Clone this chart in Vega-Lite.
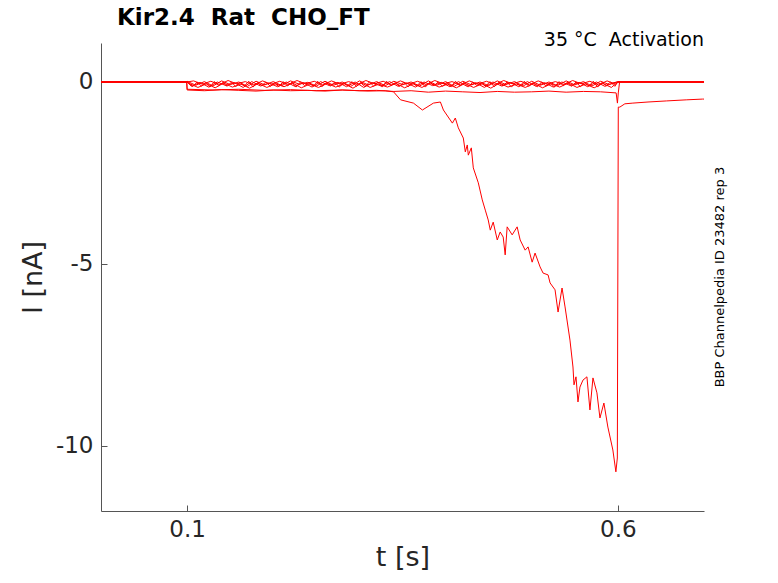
{
  "$schema": "https://vega.github.io/schema/vega-lite/v6.json",
  "autosize": "none",
  "width": 603,
  "height": 468,
  "padding": {"left": 101, "top": 43, "right": 74, "bottom": 72},
  "background": "white",
  "config": {
    "view": {"stroke": null},
    "font": "DejaVu Sans",
    "axis": {"grid": false, "domainColor": "#555555", "tickColor": "#555555", "labelColor": "#262626", "titleColor": "#262626", "labelFont": "DejaVu Sans", "titleFont": "DejaVu Sans", "labelFontSize": 23, "titleFontSize": 27, "titleFontWeight": "normal", "tickSize": -6, "domainWidth": 1, "tickWidth": 1}
  },
  "title": {"text": "Kir2.4\u00a0 Rat\u00a0 CHO_FT", "anchor": "start", "frame": "group", "dx": 16, "offset": 1, "fontSize": 23, "fontWeight": "bold", "font": "DejaVu Sans", "color": "#000000"},
  "datasets": {
    "traces": [
      {"s":"a","t":0,"i":0},{"s":"a","t":0.0995,"i":0},{"s":"a","t":0.1,"i":-0.2},{"s":"a","t":0.13,"i":-0.22},{"s":"a","t":0.16,"i":-0.2},{"s":"a","t":0.19,"i":-0.23},{"s":"a","t":0.22,"i":-0.21},{"s":"a","t":0.25,"i":-0.24},{"s":"a","t":0.28,"i":-0.22},{"s":"a","t":0.31,"i":-0.25},{"s":"a","t":0.33,"i":-0.24},{"s":"a","t":0.3396,"i":-0.27},{"s":"a","t":0.3477,"i":-0.49},{"s":"a","t":0.3627,"i":-0.58},{"s":"a","t":0.3731,"i":-0.77},{"s":"a","t":0.3859,"i":-0.58},{"s":"a","t":0.394,"i":-0.55},{"s":"a","t":0.3975,"i":-0.77},{"s":"a","t":0.4079,"i":-1.13},{"s":"a","t":0.4113,"i":-0.99},{"s":"a","t":0.4148,"i":-1.26},{"s":"a","t":0.4206,"i":-1.54},{"s":"a","t":0.4229,"i":-1.92},{"s":"a","t":0.4252,"i":-1.73},{"s":"a","t":0.4264,"i":-2.01},{"s":"a","t":0.4299,"i":-1.81},{"s":"a","t":0.4322,"i":-2.36},{"s":"a","t":0.438,"i":-2.77},{"s":"a","t":0.4426,"i":-3.24},{"s":"a","t":0.4461,"i":-3.52},{"s":"a","t":0.4495,"i":-3.79},{"s":"a","t":0.4519,"i":-4.07},{"s":"a","t":0.4553,"i":-3.85},{"s":"a","t":0.46,"i":-4.34},{"s":"a","t":0.4634,"i":-4.12},{"s":"a","t":0.4669,"i":-4.26},{"s":"a","t":0.4692,"i":-4.75},{"s":"a","t":0.4715,"i":-3.98},{"s":"a","t":0.4773,"i":-4.2},{"s":"a","t":0.4831,"i":-3.98},{"s":"a","t":0.4866,"i":-4.34},{"s":"a","t":0.4924,"i":-4.62},{"s":"a","t":0.4958,"i":-4.53},{"s":"a","t":0.5005,"i":-4.95},{"s":"a","t":0.5039,"i":-4.7},{"s":"a","t":0.5097,"i":-5.08},{"s":"a","t":0.5132,"i":-5.25},{"s":"a","t":0.519,"i":-5.3},{"s":"a","t":0.5213,"i":-5.52},{"s":"a","t":0.5271,"i":-5.71},{"s":"a","t":0.5306,"i":-6.32},{"s":"a","t":0.5352,"i":-5.66},{"s":"a","t":0.5387,"i":-6.18},{"s":"a","t":0.5444,"i":-7.09},{"s":"a","t":0.5479,"i":-7.83},{"s":"a","t":0.5491,"i":-8.32},{"s":"a","t":0.5514,"i":-8.1},{"s":"a","t":0.5537,"i":-8.79},{"s":"a","t":0.556,"i":-8.38},{"s":"a","t":0.5595,"i":-8.19},{"s":"a","t":0.5641,"i":-8.1},{"s":"a","t":0.5676,"i":-9.01},{"s":"a","t":0.5711,"i":-8.13},{"s":"a","t":0.5757,"i":-8.54},{"s":"a","t":0.5792,"i":-9.23},{"s":"a","t":0.5838,"i":-8.82},{"s":"a","t":0.5884,"i":-9.48},{"s":"a","t":0.5942,"i":-10.11},{"s":"a","t":0.5977,"i":-10.71},{"s":"a","t":0.5994,"i":-10.33},{"s":"a","t":0.6005,"i":-0.69},{"s":"a","t":0.6023,"i":-0.69},{"s":"a","t":0.6081,"i":-0.6},{"s":"a","t":0.6174,"i":-0.58},{"s":"a","t":0.635,"i":-0.55},{"s":"a","t":0.6567,"i":-0.52},{"s":"a","t":0.68,"i":-0.49},{"s":"a","t":0.6984,"i":-0.47},{"s":"a","t":0.7,"i":-0.47},

      {"s":"b","t":0,"i":0},{"s":"b","t":0.0995,"i":0},{"s":"b","t":0.1,"i":-0.22},{"s":"b","t":0.12,"i":-0.24},{"s":"b","t":0.14,"i":-0.21},{"s":"b","t":0.16,"i":-0.23},{"s":"b","t":0.18,"i":-0.25},{"s":"b","t":0.2,"i":-0.22},{"s":"b","t":0.22,"i":-0.24},{"s":"b","t":0.24,"i":-0.23},{"s":"b","t":0.26,"i":-0.25},{"s":"b","t":0.28,"i":-0.22},{"s":"b","t":0.3,"i":-0.24},{"s":"b","t":0.32,"i":-0.23},{"s":"b","t":0.34,"i":-0.26},{"s":"b","t":0.36,"i":-0.24},{"s":"b","t":0.38,"i":-0.28},{"s":"b","t":0.4,"i":-0.25},{"s":"b","t":0.42,"i":-0.27},{"s":"b","t":0.44,"i":-0.29},{"s":"b","t":0.46,"i":-0.26},{"s":"b","t":0.48,"i":-0.28},{"s":"b","t":0.5,"i":-0.27},{"s":"b","t":0.52,"i":-0.25},{"s":"b","t":0.54,"i":-0.28},{"s":"b","t":0.56,"i":-0.26},{"s":"b","t":0.58,"i":-0.27},{"s":"b","t":0.598,"i":-0.3},{"s":"b","t":0.5995,"i":-0.58},{"s":"b","t":0.6005,"i":-0.3},{"s":"b","t":0.602,"i":0},{"s":"b","t":0.7,"i":0},

      {"s":"c1","t":0,"i":0},{"s":"c1","t":0.0995,"i":0},
      {"s":"c1","t":0.10,"i":0.02},{"s":"c1","t":0.11,"i":-0.09},{"s":"c1","t":0.12,"i":0.01},{"s":"c1","t":0.13,"i":-0.11},{"s":"c1","t":0.14,"i":0.03},{"s":"c1","t":0.15,"i":-0.07},{"s":"c1","t":0.16,"i":0.0},{"s":"c1","t":0.17,"i":-0.12},{"s":"c1","t":0.18,"i":0.02},{"s":"c1","t":0.19,"i":-0.08},{"s":"c1","t":0.20,"i":0.01},{"s":"c1","t":0.21,"i":-0.1},{"s":"c1","t":0.22,"i":0.03},{"s":"c1","t":0.23,"i":-0.06},{"s":"c1","t":0.24,"i":-0.01},{"s":"c1","t":0.25,"i":-0.11},{"s":"c1","t":0.26,"i":0.02},{"s":"c1","t":0.27,"i":-0.09},{"s":"c1","t":0.28,"i":0.0},{"s":"c1","t":0.29,"i":-0.12},{"s":"c1","t":0.30,"i":0.03},{"s":"c1","t":0.31,"i":-0.08},{"s":"c1","t":0.32,"i":0.01},{"s":"c1","t":0.33,"i":-0.1},{"s":"c1","t":0.34,"i":0.02},{"s":"c1","t":0.35,"i":-0.07},{"s":"c1","t":0.36,"i":0.0},{"s":"c1","t":0.37,"i":-0.11},{"s":"c1","t":0.38,"i":0.03},{"s":"c1","t":0.39,"i":-0.09},{"s":"c1","t":0.40,"i":0.01},{"s":"c1","t":0.41,"i":-0.12},{"s":"c1","t":0.42,"i":0.02},{"s":"c1","t":0.43,"i":-0.08},{"s":"c1","t":0.44,"i":0.0},{"s":"c1","t":0.45,"i":-0.1},{"s":"c1","t":0.46,"i":0.03},{"s":"c1","t":0.47,"i":-0.07},{"s":"c1","t":0.48,"i":0.01},{"s":"c1","t":0.49,"i":-0.11},{"s":"c1","t":0.50,"i":0.02},{"s":"c1","t":0.51,"i":-0.09},{"s":"c1","t":0.52,"i":0.0},{"s":"c1","t":0.53,"i":-0.1},{"s":"c1","t":0.54,"i":0.03},{"s":"c1","t":0.55,"i":-0.08},{"s":"c1","t":0.56,"i":0.01},{"s":"c1","t":0.57,"i":-0.11},{"s":"c1","t":0.58,"i":0.02},{"s":"c1","t":0.59,"i":-0.07},{"s":"c1","t":0.6,"i":0.01},{"s":"c1","t":0.7,"i":0},

      {"s":"c2","t":0,"i":0},{"s":"c2","t":0.1,"i":0},
      {"s":"c2","t":0.105,"i":-0.12},{"s":"c2","t":0.115,"i":-0.01},{"s":"c2","t":0.125,"i":-0.14},{"s":"c2","t":0.135,"i":0.0},{"s":"c2","t":0.145,"i":-0.1},{"s":"c2","t":0.155,"i":-0.02},{"s":"c2","t":0.165,"i":-0.15},{"s":"c2","t":0.175,"i":0.01},{"s":"c2","t":0.185,"i":-0.11},{"s":"c2","t":0.195,"i":-0.03},{"s":"c2","t":0.205,"i":-0.13},{"s":"c2","t":0.215,"i":0.0},{"s":"c2","t":0.225,"i":-0.12},{"s":"c2","t":0.235,"i":-0.02},{"s":"c2","t":0.245,"i":-0.14},{"s":"c2","t":0.255,"i":0.01},{"s":"c2","t":0.265,"i":-0.1},{"s":"c2","t":0.275,"i":-0.01},{"s":"c2","t":0.285,"i":-0.13},{"s":"c2","t":0.295,"i":0.0},{"s":"c2","t":0.305,"i":-0.15},{"s":"c2","t":0.315,"i":-0.02},{"s":"c2","t":0.325,"i":-0.11},{"s":"c2","t":0.335,"i":0.01},{"s":"c2","t":0.345,"i":-0.12},{"s":"c2","t":0.355,"i":-0.03},{"s":"c2","t":0.365,"i":-0.14},{"s":"c2","t":0.375,"i":0.0},{"s":"c2","t":0.385,"i":-0.1},{"s":"c2","t":0.395,"i":-0.01},{"s":"c2","t":0.405,"i":-0.13},{"s":"c2","t":0.415,"i":0.01},{"s":"c2","t":0.425,"i":-0.12},{"s":"c2","t":0.435,"i":-0.02},{"s":"c2","t":0.445,"i":-0.15},{"s":"c2","t":0.455,"i":0.0},{"s":"c2","t":0.465,"i":-0.11},{"s":"c2","t":0.475,"i":-0.01},{"s":"c2","t":0.485,"i":-0.13},{"s":"c2","t":0.495,"i":0.01},{"s":"c2","t":0.505,"i":-0.12},{"s":"c2","t":0.515,"i":-0.02},{"s":"c2","t":0.525,"i":-0.14},{"s":"c2","t":0.535,"i":0.0},{"s":"c2","t":0.545,"i":-0.1},{"s":"c2","t":0.555,"i":-0.01},{"s":"c2","t":0.565,"i":-0.13},{"s":"c2","t":0.575,"i":0.0},{"s":"c2","t":0.585,"i":-0.12},{"s":"c2","t":0.595,"i":-0.02},{"s":"c2","t":0.6,"i":0},{"s":"c2","t":0.7,"i":0},

      {"s":"c3","t":0,"i":0},{"s":"c3","t":0.1,"i":0},
      {"s":"c3","t":0.1025,"i":-0.04},{"s":"c3","t":0.1125,"i":-0.15},{"s":"c3","t":0.1225,"i":-0.05},{"s":"c3","t":0.1325,"i":-0.16},{"s":"c3","t":0.1425,"i":-0.03},{"s":"c3","t":0.1525,"i":-0.14},{"s":"c3","t":0.1625,"i":-0.06},{"s":"c3","t":0.1725,"i":-0.17},{"s":"c3","t":0.1825,"i":-0.04},{"s":"c3","t":0.1925,"i":-0.15},{"s":"c3","t":0.2025,"i":-0.05},{"s":"c3","t":0.2125,"i":-0.13},{"s":"c3","t":0.2225,"i":-0.03},{"s":"c3","t":0.2325,"i":-0.16},{"s":"c3","t":0.2425,"i":-0.06},{"s":"c3","t":0.2525,"i":-0.15},{"s":"c3","t":0.2625,"i":-0.04},{"s":"c3","t":0.2725,"i":-0.14},{"s":"c3","t":0.2825,"i":-0.05},{"s":"c3","t":0.2925,"i":-0.17},{"s":"c3","t":0.3025,"i":-0.03},{"s":"c3","t":0.3125,"i":-0.15},{"s":"c3","t":0.3225,"i":-0.06},{"s":"c3","t":0.3325,"i":-0.14},{"s":"c3","t":0.3425,"i":-0.04},{"s":"c3","t":0.3525,"i":-0.16},{"s":"c3","t":0.3625,"i":-0.05},{"s":"c3","t":0.3725,"i":-0.15},{"s":"c3","t":0.3825,"i":-0.03},{"s":"c3","t":0.3925,"i":-0.14},{"s":"c3","t":0.4025,"i":-0.06},{"s":"c3","t":0.4125,"i":-0.16},{"s":"c3","t":0.4225,"i":-0.04},{"s":"c3","t":0.4325,"i":-0.15},{"s":"c3","t":0.4425,"i":-0.05},{"s":"c3","t":0.4525,"i":-0.17},{"s":"c3","t":0.4625,"i":-0.03},{"s":"c3","t":0.4725,"i":-0.14},{"s":"c3","t":0.4825,"i":-0.06},{"s":"c3","t":0.4925,"i":-0.15},{"s":"c3","t":0.5025,"i":-0.04},{"s":"c3","t":0.5125,"i":-0.16},{"s":"c3","t":0.5225,"i":-0.05},{"s":"c3","t":0.5325,"i":-0.14},{"s":"c3","t":0.5425,"i":-0.03},{"s":"c3","t":0.5525,"i":-0.15},{"s":"c3","t":0.5625,"i":-0.06},{"s":"c3","t":0.5725,"i":-0.16},{"s":"c3","t":0.5825,"i":-0.04},{"s":"c3","t":0.5925,"i":-0.15},{"s":"c3","t":0.6,"i":0},{"s":"c3","t":0.7,"i":0},

      {"s":"c4","t":0,"i":0},{"s":"c4","t":0.1,"i":0},
      {"s":"c4","t":0.1075,"i":0.03},{"s":"c4","t":0.1175,"i":-0.06},{"s":"c4","t":0.1275,"i":0.02},{"s":"c4","t":0.1375,"i":-0.07},{"s":"c4","t":0.1475,"i":0.04},{"s":"c4","t":0.1575,"i":-0.05},{"s":"c4","t":0.1675,"i":0.01},{"s":"c4","t":0.1775,"i":-0.08},{"s":"c4","t":0.1875,"i":0.03},{"s":"c4","t":0.1975,"i":-0.06},{"s":"c4","t":0.2075,"i":0.02},{"s":"c4","t":0.2175,"i":-0.07},{"s":"c4","t":0.2275,"i":0.04},{"s":"c4","t":0.2375,"i":-0.05},{"s":"c4","t":0.2475,"i":0.02},{"s":"c4","t":0.2575,"i":-0.08},{"s":"c4","t":0.2675,"i":0.03},{"s":"c4","t":0.2775,"i":-0.06},{"s":"c4","t":0.2875,"i":0.01},{"s":"c4","t":0.2975,"i":-0.07},{"s":"c4","t":0.3075,"i":0.04},{"s":"c4","t":0.3175,"i":-0.05},{"s":"c4","t":0.3275,"i":0.02},{"s":"c4","t":0.3375,"i":-0.08},{"s":"c4","t":0.3475,"i":0.03},{"s":"c4","t":0.3575,"i":-0.06},{"s":"c4","t":0.3675,"i":0.02},{"s":"c4","t":0.3775,"i":-0.07},{"s":"c4","t":0.3875,"i":0.04},{"s":"c4","t":0.3975,"i":-0.05},{"s":"c4","t":0.4075,"i":0.01},{"s":"c4","t":0.4175,"i":-0.08},{"s":"c4","t":0.4275,"i":0.03},{"s":"c4","t":0.4375,"i":-0.06},{"s":"c4","t":0.4475,"i":0.02},{"s":"c4","t":0.4575,"i":-0.07},{"s":"c4","t":0.4675,"i":0.04},{"s":"c4","t":0.4775,"i":-0.05},{"s":"c4","t":0.4875,"i":0.02},{"s":"c4","t":0.4975,"i":-0.08},{"s":"c4","t":0.5075,"i":0.03},{"s":"c4","t":0.5175,"i":-0.06},{"s":"c4","t":0.5275,"i":0.01},{"s":"c4","t":0.5375,"i":-0.07},{"s":"c4","t":0.5475,"i":0.04},{"s":"c4","t":0.5575,"i":-0.05},{"s":"c4","t":0.5675,"i":0.02},{"s":"c4","t":0.5775,"i":-0.08},{"s":"c4","t":0.5875,"i":0.03},{"s":"c4","t":0.5975,"i":-0.06},{"s":"c4","t":0.6,"i":0},{"s":"c4","t":0.7,"i":0},

      {"s":"c5","t":0,"i":0},{"s":"c5","t":0.1,"i":0},
      {"s":"c5","t":0.1015,"i":-0.02},{"s":"c5","t":0.1065,"i":-0.13},{"s":"c5","t":0.1115,"i":0.0},{"s":"c5","t":0.1165,"i":-0.11},{"s":"c5","t":0.1215,"i":-0.03},{"s":"c5","t":0.1265,"i":-0.14},{"s":"c5","t":0.1315,"i":0.01},{"s":"c5","t":0.1365,"i":-0.1},{"s":"c5","t":0.1415,"i":-0.02},{"s":"c5","t":0.1465,"i":-0.12},{"s":"c5","t":0.1515,"i":0.0},{"s":"c5","t":0.1565,"i":-0.13},{"s":"c5","t":0.1615,"i":-0.01},{"s":"c5","t":0.1665,"i":-0.11},{"s":"c5","t":0.1715,"i":0.02},{"s":"c5","t":0.1765,"i":-0.14},{"s":"c5","t":0.1815,"i":-0.02},{"s":"c5","t":0.1865,"i":-0.1},{"s":"c5","t":0.1915,"i":0.0},{"s":"c5","t":0.1965,"i":-0.12},{"s":"c5","t":0.2015,"i":-0.03},{"s":"c5","t":0.2065,"i":-0.13},{"s":"c5","t":0.2115,"i":0.01},{"s":"c5","t":0.2165,"i":-0.11},{"s":"c5","t":0.2215,"i":-0.01},{"s":"c5","t":0.2265,"i":-0.14},{"s":"c5","t":0.2315,"i":0.0},{"s":"c5","t":0.2365,"i":-0.1},{"s":"c5","t":0.2415,"i":-0.02},{"s":"c5","t":0.2465,"i":-0.12},{"s":"c5","t":0.2515,"i":0.02},{"s":"c5","t":0.2565,"i":-0.13},{"s":"c5","t":0.2615,"i":-0.01},{"s":"c5","t":0.2665,"i":-0.11},{"s":"c5","t":0.2715,"i":0.0},{"s":"c5","t":0.2765,"i":-0.14},{"s":"c5","t":0.2815,"i":-0.03},{"s":"c5","t":0.2865,"i":-0.1},{"s":"c5","t":0.2915,"i":0.01},{"s":"c5","t":0.2965,"i":-0.12},{"s":"c5","t":0.3015,"i":-0.02},{"s":"c5","t":0.3065,"i":-0.13},{"s":"c5","t":0.3115,"i":0.0},{"s":"c5","t":0.3165,"i":-0.11},{"s":"c5","t":0.3215,"i":-0.01},{"s":"c5","t":0.3265,"i":-0.14},{"s":"c5","t":0.3315,"i":0.02},{"s":"c5","t":0.3365,"i":-0.1},{"s":"c5","t":0.3415,"i":-0.02},{"s":"c5","t":0.3465,"i":-0.12},{"s":"c5","t":0.3515,"i":0.0},{"s":"c5","t":0.3565,"i":-0.13},{"s":"c5","t":0.3615,"i":-0.03},{"s":"c5","t":0.3665,"i":-0.11},{"s":"c5","t":0.3715,"i":0.01},{"s":"c5","t":0.3765,"i":-0.14},{"s":"c5","t":0.3815,"i":-0.01},{"s":"c5","t":0.3865,"i":-0.1},{"s":"c5","t":0.3915,"i":0.0},{"s":"c5","t":0.3965,"i":-0.12},{"s":"c5","t":0.4015,"i":-0.02},{"s":"c5","t":0.4065,"i":-0.13},{"s":"c5","t":0.4115,"i":0.02},{"s":"c5","t":0.4165,"i":-0.11},{"s":"c5","t":0.4215,"i":-0.01},{"s":"c5","t":0.4265,"i":-0.14},{"s":"c5","t":0.4315,"i":0.0},{"s":"c5","t":0.4365,"i":-0.1},{"s":"c5","t":0.4415,"i":-0.03},{"s":"c5","t":0.4465,"i":-0.12},{"s":"c5","t":0.4515,"i":0.01},{"s":"c5","t":0.4565,"i":-0.13},{"s":"c5","t":0.4615,"i":-0.02},{"s":"c5","t":0.4665,"i":-0.11},{"s":"c5","t":0.4715,"i":0.0},{"s":"c5","t":0.4765,"i":-0.14},{"s":"c5","t":0.4815,"i":-0.01},{"s":"c5","t":0.4865,"i":-0.1},{"s":"c5","t":0.4915,"i":0.02},{"s":"c5","t":0.4965,"i":-0.12},{"s":"c5","t":0.5015,"i":-0.02},{"s":"c5","t":0.5065,"i":-0.13},{"s":"c5","t":0.5115,"i":0.0},{"s":"c5","t":0.5165,"i":-0.11},{"s":"c5","t":0.5215,"i":-0.03},{"s":"c5","t":0.5265,"i":-0.14},{"s":"c5","t":0.5315,"i":0.01},{"s":"c5","t":0.5365,"i":-0.1},{"s":"c5","t":0.5415,"i":-0.01},{"s":"c5","t":0.5465,"i":-0.12},{"s":"c5","t":0.5515,"i":0.0},{"s":"c5","t":0.5565,"i":-0.13},{"s":"c5","t":0.5615,"i":-0.02},{"s":"c5","t":0.5665,"i":-0.11},{"s":"c5","t":0.5715,"i":0.02},{"s":"c5","t":0.5765,"i":-0.14},{"s":"c5","t":0.5815,"i":-0.01},{"s":"c5","t":0.5865,"i":-0.1},{"s":"c5","t":0.5915,"i":0.0},{"s":"c5","t":0.5965,"i":-0.12},{"s":"c5","t":0.6,"i":0},{"s":"c5","t":0.7,"i":0}
    ]
  },
  "layer": [
    {
      "data": {"name": "traces"},
      "mark": {"type": "line", "color": "#ff0000", "strokeWidth": 1, "clip": true},
      "encoding": {
        "x": {"field": "t", "type": "quantitative", "scale": {"domain": [0, 0.7], "nice": false, "zero": false},
          "axis": {"title": "t [s]", "values": [0.1, 0.6], "format": ".1f", "labelPadding": 13, "titlePadding": 3}},
        "y": {"field": "i", "type": "quantitative", "scale": {"domain": [-11.786, 1.071], "nice": false, "zero": false},
          "axis": {"title": "I [nA]", "values": [0, -5, -10], "labelExpr": "'' + datum.value", "labelPadding": 14, "titlePadding": 8}},
        "detail": {"field": "s"}
      }
    },
    {
      "data": {"values": [{"label": "35 \u00b0C\u00a0 Activation"}]},
      "mark": {"type": "text", "align": "right", "baseline": "alphabetic", "fontSize": 19, "font": "DejaVu Sans", "color": "#000000"},
      "encoding": {"x": {"datum": 0.7}, "y": {"datum": 0.99}, "text": {"field": "label"}}
    },
    {
      "data": {"values": [{"label": "BBP Channelpedia ID 23482 rep 3"}]},
      "mark": {"type": "text", "align": "center", "baseline": "middle", "angle": 270, "fontSize": 13, "font": "DejaVu Sans", "color": "#000000"},
      "encoding": {"x": {"datum": 0.7185}, "y": {"datum": -5.36}, "text": {"field": "label"}}
    }
  ]
}
